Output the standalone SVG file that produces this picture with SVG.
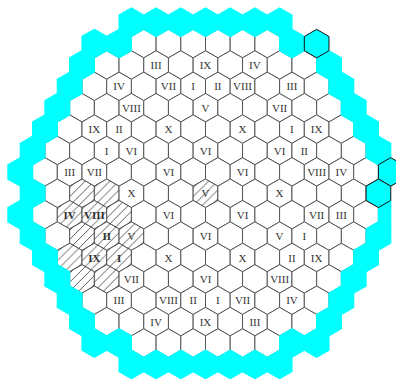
<svg xmlns="http://www.w3.org/2000/svg" xmlns:xlink="http://www.w3.org/1999/xlink" width="396" height="379" viewBox="0 0 396 379">
<style>
.w{fill:#fff;stroke:#555;stroke-width:1}
.c{fill:#00ffff;stroke:#00ffff;stroke-width:1.2}
.co{fill:#00ffff;stroke:#111;stroke-width:1}
.ht{fill:url(#hatch);stroke:none}
text{font-family:"Liberation Serif","Times New Roman",serif;font-size:11px;fill:#333;text-anchor:middle}
.b{font-weight:bold}
</style>
<defs>
<polygon id="h" points="0,-14.26 12.35,-7.13 12.35,7.13 0,14.26 -12.35,7.13 -12.35,-7.13"/>
<pattern id="hatch" patternUnits="userSpaceOnUse" width="9" height="9">
<path d="M-2,2 L2,-2 M0,9 L9,0 M7,11 L11,7" stroke="#333" stroke-width="0.8"/>
</pattern>
<g id="rO5" class="w"><use href="#h" x="143.75"/><use href="#h" x="168.45"/><use href="#h" x="193.15"/><use href="#h" x="217.85"/><use href="#h" x="242.55"/><use href="#h" x="267.25"/></g>
<g id="rE8" class="w"><use href="#h" x="106.7"/><use href="#h" x="131.4"/><use href="#h" x="156.1"/><use href="#h" x="180.8"/><use href="#h" x="205.5"/><use href="#h" x="230.2"/><use href="#h" x="254.9"/><use href="#h" x="279.6"/><use href="#h" x="304.3"/></g>
<g id="rO9" class="w"><use href="#h" x="94.35"/><use href="#h" x="119.05"/><use href="#h" x="143.75"/><use href="#h" x="168.45"/><use href="#h" x="193.15"/><use href="#h" x="217.85"/><use href="#h" x="242.55"/><use href="#h" x="267.25"/><use href="#h" x="291.95"/><use href="#h" x="316.65"/></g>
<g id="rE10" class="w"><use href="#h" x="82"/><use href="#h" x="106.7"/><use href="#h" x="131.4"/><use href="#h" x="156.1"/><use href="#h" x="180.8"/><use href="#h" x="205.5"/><use href="#h" x="230.2"/><use href="#h" x="254.9"/><use href="#h" x="279.6"/><use href="#h" x="304.3"/><use href="#h" x="329"/></g>
<g id="rO11" class="w"><use href="#h" x="69.65"/><use href="#h" x="94.35"/><use href="#h" x="119.05"/><use href="#h" x="143.75"/><use href="#h" x="168.45"/><use href="#h" x="193.15"/><use href="#h" x="217.85"/><use href="#h" x="242.55"/><use href="#h" x="267.25"/><use href="#h" x="291.95"/><use href="#h" x="316.65"/><use href="#h" x="341.35"/></g>
<g id="rE12" class="w"><use href="#h" x="57.3"/><use href="#h" x="82"/><use href="#h" x="106.7"/><use href="#h" x="131.4"/><use href="#h" x="156.1"/><use href="#h" x="180.8"/><use href="#h" x="205.5"/><use href="#h" x="230.2"/><use href="#h" x="254.9"/><use href="#h" x="279.6"/><use href="#h" x="304.3"/><use href="#h" x="329"/><use href="#h" x="353.7"/></g>
<g id="rO13" class="w"><use href="#h" x="44.95"/><use href="#h" x="69.65"/><use href="#h" x="94.35"/><use href="#h" x="119.05"/><use href="#h" x="143.75"/><use href="#h" x="168.45"/><use href="#h" x="193.15"/><use href="#h" x="217.85"/><use href="#h" x="242.55"/><use href="#h" x="267.25"/><use href="#h" x="291.95"/><use href="#h" x="316.65"/><use href="#h" x="341.35"/><use href="#h" x="366.05"/></g>
</defs>
<rect width="396" height="379" fill="#fff"/>
<g id="grid">
<use href="#rO5" y="43.6"/>
<use href="#rE8" y="65.0"/>
<use href="#rO9" y="86.4"/>
<use href="#rE10" y="107.7"/>
<use href="#rO11" y="129.1"/>
<use href="#rE12" y="150.5"/>
<use href="#rO13" y="171.9"/>
<use href="#rE12" y="193.3"/>
<use href="#rO13" y="214.7"/>
<use href="#rE12" y="236.1"/>
<use href="#rO11" y="257.5"/>
<use href="#rE10" y="278.9"/>
<use href="#rO9" y="300.3"/>
<use href="#rE8" y="321.6"/>
<use href="#rO5" y="343.0"/>
</g>
<g id="hatched" class="ht">
<use href="#h" x="82" y="193.3"/><use href="#h" x="106.7" y="193.3"/>
<use href="#h" x="69.65" y="214.7"/><use href="#h" x="94.35" y="214.7"/><use href="#h" x="119.05" y="214.7"/>
<use href="#h" x="82" y="236.1"/><use href="#h" x="106.7" y="236.1"/><use href="#h" x="131.4" y="236.1"/>
<use href="#h" x="69.65" y="257.5"/><use href="#h" x="94.35" y="257.5"/><use href="#h" x="119.05" y="257.5"/>
<use href="#h" x="82" y="278.9"/><use href="#h" x="106.7" y="278.9"/>
<use href="#h" x="205.5" y="193.3"/>
</g>
<g id="reflector" class="c">
<use href="#h" x="131.4" y="22.2"/><use href="#h" x="156.1" y="22.2"/><use href="#h" x="180.8" y="22.2"/><use href="#h" x="205.5" y="22.2"/><use href="#h" x="230.2" y="22.2"/><use href="#h" x="254.9" y="22.2"/><use href="#h" x="279.6" y="22.2"/>
<use href="#h" x="94.35" y="43.6"/><use href="#h" x="119.05" y="43.6"/><use href="#h" x="291.95" y="43.6"/>
<use href="#h" x="82" y="65.0"/><use href="#h" x="329" y="65.0"/>
<use href="#h" x="69.65" y="86.4"/><use href="#h" x="341.35" y="86.4"/>
<use href="#h" x="57.3" y="107.7"/><use href="#h" x="353.7" y="107.7"/>
<use href="#h" x="44.95" y="129.1"/><use href="#h" x="366.05" y="129.1"/>
<use href="#h" x="32.6" y="150.5"/><use href="#h" x="378.4" y="150.5"/>
<use href="#h" x="20.25" y="171.9"/>
<use href="#h" x="32.6" y="193.3"/>
<use href="#h" x="20.25" y="214.7"/>
<polygon points="378.4,207.57 390.75,200.44 390.75,228.96 378.4,221.83"/>
<use href="#h" x="32.6" y="236.1"/><use href="#h" x="378.4" y="236.1"/>
<use href="#h" x="44.95" y="257.5"/><use href="#h" x="366.05" y="257.5"/>
<use href="#h" x="57.3" y="278.9"/><use href="#h" x="353.7" y="278.9"/>
<use href="#h" x="69.65" y="300.3"/><use href="#h" x="341.35" y="300.3"/>
<use href="#h" x="82" y="321.6"/><use href="#h" x="329" y="321.6"/>
<use href="#h" x="94.35" y="343.0"/><use href="#h" x="119.05" y="343.0"/><use href="#h" x="291.95" y="343.0"/><use href="#h" x="316.65" y="343.0"/>
<use href="#h" x="131.4" y="364.4"/><use href="#h" x="156.1" y="364.4"/><use href="#h" x="180.8" y="364.4"/><use href="#h" x="205.5" y="364.4"/><use href="#h" x="230.2" y="364.4"/><use href="#h" x="254.9" y="364.4"/><use href="#h" x="279.6" y="364.4"/>
</g>
<g id="marked" class="co">
<use href="#h" x="316.65" y="43.6"/>
<use href="#h" x="390.75" y="171.9"/>
<use href="#h" x="378.4" y="193.3"/>
</g>
<g id="labels">
<text x="156.1" y="69">III</text><text x="205.5" y="69">IX</text><text x="254.9" y="69">IV</text>
<text x="119.05" y="90.4">IV</text><text x="168.45" y="90.4">VII</text><text x="193.15" y="90.4">I</text><text x="217.85" y="90.4">II</text><text x="242.55" y="90.4">VIII</text><text x="291.95" y="90.4">III</text>
<text x="131.4" y="111.7">VIII</text><text x="205.5" y="111.7">V</text><text x="279.6" y="111.7">VII</text>
<text x="94.35" y="133.1">IX</text><text x="119.05" y="133.1">II</text><text x="168.45" y="133.1">X</text><text x="242.55" y="133.1">X</text><text x="291.95" y="133.1">I</text><text x="316.65" y="133.1">IX</text>
<text x="106.7" y="154.5">I</text><text x="131.4" y="154.5">VI</text><text x="205.5" y="154.5">VI</text><text x="279.6" y="154.5">VI</text><text x="304.3" y="154.5">II</text>
<text x="69.65" y="175.9">III</text><text x="94.35" y="175.9">VII</text><text x="168.45" y="175.9">VI</text><text x="242.55" y="175.9">VI</text><text x="316.65" y="175.9">VIII</text><text x="341.35" y="175.9">IV</text>
<text x="131.4" y="197.3">X</text><text x="205.5" y="197.3">V</text><text x="279.6" y="197.3">X</text>
<text class="b" x="69.65" y="218.7">IV</text><text class="b" x="94.35" y="218.7">VIII</text><text x="168.45" y="218.7">VI</text><text x="242.55" y="218.7">VI</text><text x="316.65" y="218.7">VII</text><text x="341.35" y="218.7">III</text>
<text class="b" x="106.7" y="240.1">II</text><text x="131.4" y="240.1">V</text><text x="205.5" y="240.1">VI</text><text x="279.6" y="240.1">V</text><text x="304.3" y="240.1">I</text>
<text class="b" x="94.35" y="261.5">IX</text><text class="b" x="119.05" y="261.5">I</text><text x="168.45" y="261.5">X</text><text x="242.55" y="261.5">X</text><text x="291.95" y="261.5">II</text><text x="316.65" y="261.5">IX</text>
<text x="131.4" y="282.9">VII</text><text x="205.5" y="282.9">VI</text><text x="279.6" y="282.9">VIII</text>
<text x="119.05" y="304.3">III</text><text x="168.45" y="304.3">VIII</text><text x="193.15" y="304.3">II</text><text x="217.85" y="304.3">I</text><text x="242.55" y="304.3">VII</text><text x="291.95" y="304.3">IV</text>
<text x="156.1" y="325.6">IV</text><text x="205.5" y="325.6">IX</text><text x="254.9" y="325.6">III</text>
</g>
</svg>
